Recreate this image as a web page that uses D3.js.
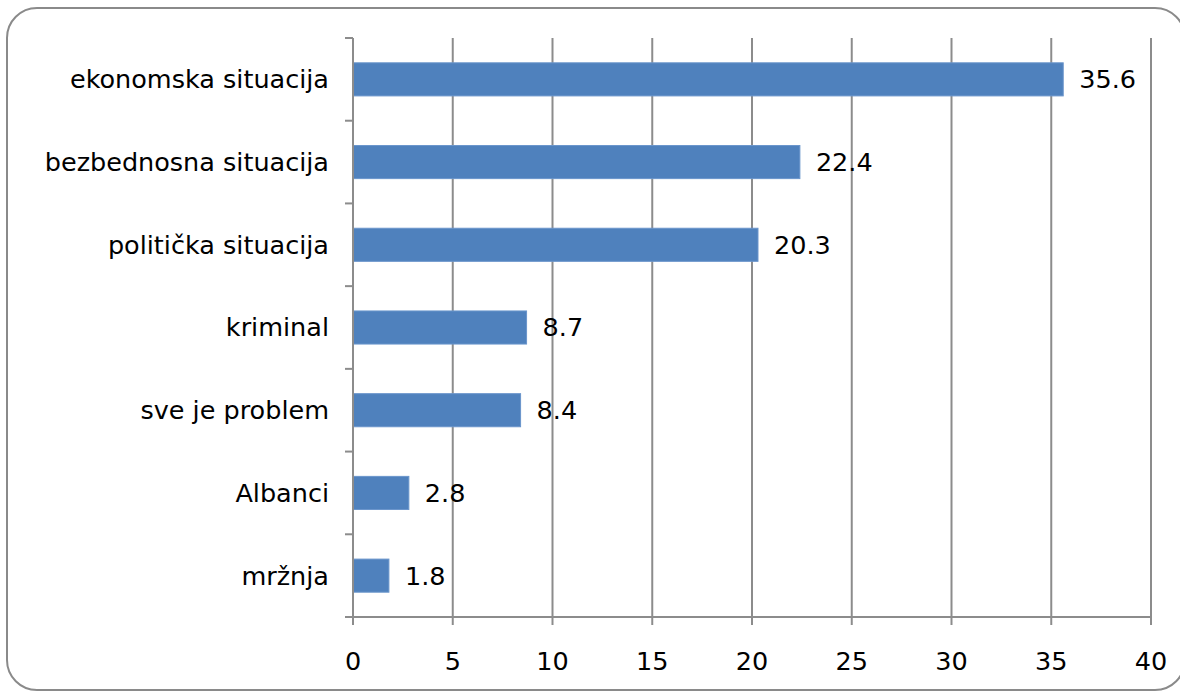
<!DOCTYPE html>
<html>
<head>
<meta charset="utf-8">
<script src="https://cdn.jsdelivr.net/npm/d3@7"></script>
<style>
  body { margin: 0; background: #fff; }
  text { font-family: "DejaVu Sans", sans-serif; fill: #000; }
</style>
</head>
<body>
<div id="chart"></div>
<script>
// data
const categories = ["ekonomska situacija", "bezbednosna situacija", "politička situacija", "kriminal", "sve je problem", "Albanci", "mržnja"]
const values = [35.6, 22.4, 20.3, 8.7, 8.4, 2.8, 1.8]
const xTicks = [0, 5, 10, 15, 20, 25, 30, 35, 40]

const width = 1180
const height = 698
const plotLeft = 353, plotRight = 1151, plotTop = 38, plotBottom = 617
const axisColor = "#8c8c8c"
const fontSize = 25.5

const svg = d3.select("#chart").append("svg")
  .attr("width", width)
  .attr("height", height)

// frame
svg.append("rect")
  .attr("x", 7).attr("y", 8)
  .attr("width", 1178).attr("height", 682)
  .attr("rx", 30).attr("ry", 30)
  .attr("fill", "none")
  .attr("stroke", "#8a8a8a")
  .attr("stroke-width", 2)

const x = d3.scaleLinear().domain([0, 40]).range([plotLeft, plotRight])
const y = d3.scaleBand().domain(categories).range([plotTop, plotBottom]).paddingInner(0.6).paddingOuter(0.3)
const yEdge = d3.scaleLinear().domain([0, categories.length]).range([plotTop, plotBottom])

// vertical gridlines
svg.append("g").selectAll("line")
  .data(xTicks.slice(1)).join("line")
  .attr("x1", d => x(d)).attr("x2", d => x(d))
  .attr("y1", plotTop).attr("y2", plotBottom)
  .attr("stroke", axisColor).attr("stroke-width", 2)

// bars
svg.append("g").selectAll("rect")
  .data(values).join("rect")
  .attr("x", x(0))
  .attr("y", (d, i) => y(categories[i]))
  .attr("width", d => x(d) - x(0))
  .attr("height", y.bandwidth())
  .attr("fill", "#4f81bd")
  .attr("stroke", "#6a95cb")
  .attr("stroke-width", 1)

// value labels
svg.append("g").selectAll("text")
  .data(values).join("text")
  .attr("x", d => x(d) + 16)
  .attr("y", (d, i) => y(categories[i]) + y.bandwidth() / 2)
  .attr("dy", "0.35em")
  .attr("font-size", fontSize)
  .text(d => d.toFixed(1))

// y axis line + ticks between categories
svg.append("line")
  .attr("x1", plotLeft).attr("x2", plotLeft).attr("y1", plotTop).attr("y2", plotBottom + 8)
  .attr("stroke", axisColor).attr("stroke-width", 2)
svg.append("g").selectAll("line")
  .data(d3.range(categories.length + 1)).join("line")
  .attr("x1", plotLeft - 8).attr("x2", plotLeft)
  .attr("y1", d => yEdge(d)).attr("y2", d => yEdge(d))
  .attr("stroke", axisColor).attr("stroke-width", 2)

// category labels
svg.append("g").selectAll("text")
  .data(categories).join("text")
  .attr("x", plotLeft - 24)
  .attr("y", d => y(d) + y.bandwidth() / 2)
  .attr("dy", "0.35em")
  .attr("text-anchor", "end")
  .attr("font-size", fontSize)
  .text(d => d)

// x axis
svg.append("line")
  .attr("x1", plotLeft - 8).attr("x2", plotRight).attr("y1", plotBottom).attr("y2", plotBottom)
  .attr("stroke", axisColor).attr("stroke-width", 2)
svg.append("g").selectAll("line")
  .data(xTicks).join("line")
  .attr("x1", d => x(d)).attr("x2", d => x(d))
  .attr("y1", plotBottom).attr("y2", plotBottom + 8)
  .attr("stroke", axisColor).attr("stroke-width", 2)
svg.append("g").selectAll("text")
  .data(xTicks).join("text")
  .attr("x", d => x(d))
  .attr("y", 661)
  .attr("dy", "0.35em")
  .attr("text-anchor", "middle")
  .attr("font-size", fontSize)
  .text(d => d)
</script>
</body>
</html>
